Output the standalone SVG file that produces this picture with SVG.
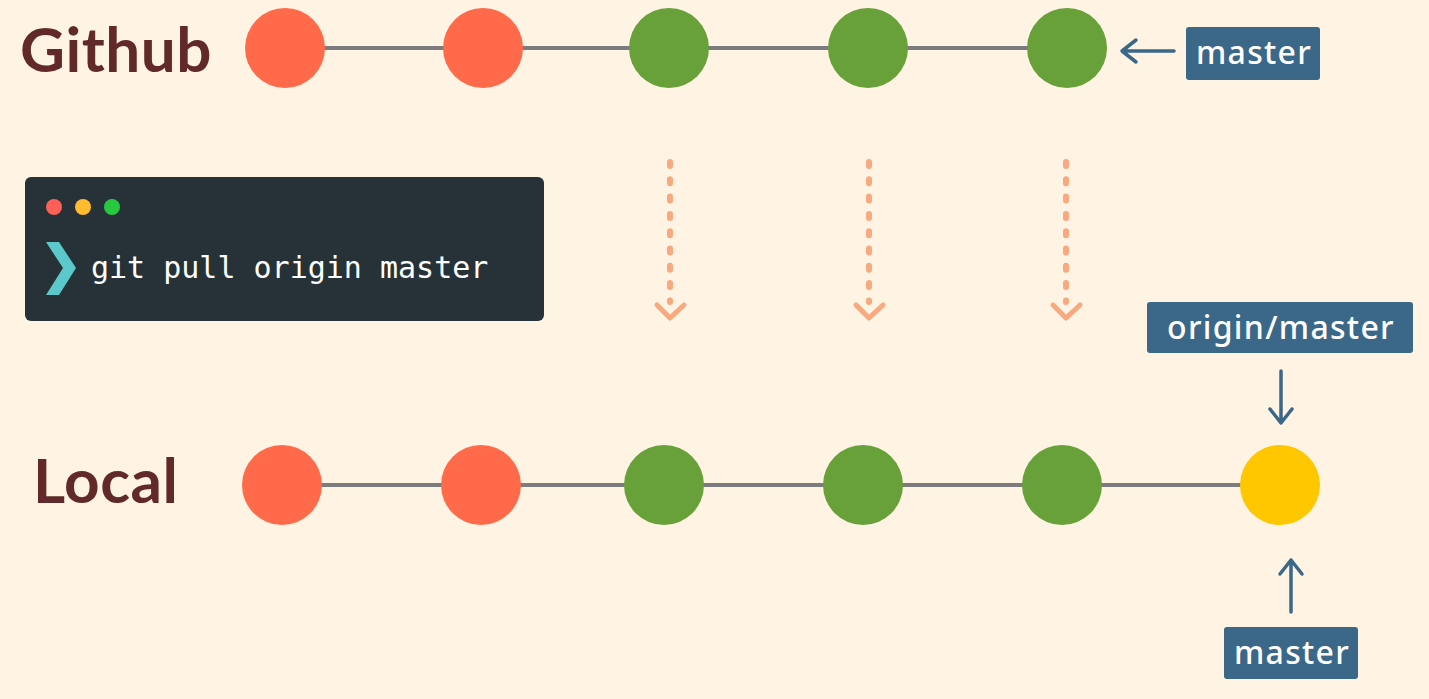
<svg xmlns="http://www.w3.org/2000/svg" width="1429" height="699" viewBox="0 0 1429 699">
<defs>
<style>
.title{font-family:Lato,"Noto Sans",sans-serif;font-weight:700;fill:#62292b;font-size:62px;letter-spacing:0.5px}
.lbl{font-family:"Noto Sans",Lato,sans-serif;font-weight:500;fill:#ffffff;font-size:32px;letter-spacing:1.3px;text-anchor:middle}
.tag{fill:#3b6789}
.line{stroke:#7b7b80;stroke-width:4}
.red{fill:#ff6a4a}
.green{fill:#68a03a}
.yellow{fill:#fec700}
.ptr{stroke:#3b6789;stroke-width:3.5;fill:none;stroke-linecap:round;stroke-linejoin:round}
.dot{stroke:#f9a97f;stroke-width:6;fill:none;stroke-linecap:round;stroke-dasharray:4 13.3}
.chev{stroke:#f9a97f;stroke-width:5;fill:none;stroke-linecap:round;stroke-linejoin:round}
</style>
</defs>
<rect width="1429" height="699" fill="#fff4e3"/>
<g id="connectors">
<line class="line" x1="285" y1="48" x2="1067" y2="48"/>
<line class="line" x1="282" y1="485" x2="1280" y2="485"/>
<path class="ptr" d="M1174 51 H1122 M1136 40 L1122 51 L1136 62"/>
<path class="ptr" d="M1281 371 V423 M1270 409 L1281 423 L1292 409"/>
<path class="ptr" d="M1291 612 V560 M1280 574 L1291 560 L1302 574"/>
<line class="dot" x1="670" y1="162" x2="670" y2="302"/>
<path class="chev" d="M657 305 L670 318 L684 305"/>
<line class="dot" x1="869" y1="162" x2="869" y2="302"/>
<path class="chev" d="M856 305 L869 318 L883 305"/>
<line class="dot" x1="1066" y1="162" x2="1066" y2="302"/>
<path class="chev" d="M1053 305 L1066 318 L1080 305"/>
</g>
<g id="github-label"><text class="title" x="20" y="72">Github</text></g>
<g id="local-label"><text class="title" x="33" y="503">Local</text></g>
<g id="g1"><circle class="red" cx="285" cy="48" r="40"/></g>
<g id="g2"><circle class="red" cx="483" cy="48" r="40"/></g>
<g id="g3"><circle class="green" cx="669" cy="48" r="40"/></g>
<g id="g4"><circle class="green" cx="868" cy="48" r="40"/></g>
<g id="g5"><circle class="green" cx="1067" cy="48" r="40"/></g>
<g id="l1"><circle class="red" cx="282" cy="485" r="40"/></g>
<g id="l2"><circle class="red" cx="481" cy="485" r="40"/></g>
<g id="l3"><circle class="green" cx="664" cy="485" r="40"/></g>
<g id="l4"><circle class="green" cx="863" cy="485" r="40"/></g>
<g id="l5"><circle class="green" cx="1062" cy="485" r="40"/></g>
<g id="l6"><circle class="yellow" cx="1280" cy="485" r="40"/></g>
<g id="tag-master-remote"><rect class="tag" x="1186" y="27" width="134" height="53" rx="3"/><text class="lbl" x="1254" y="64">master</text></g>
<g id="tag-origin-master"><rect class="tag" x="1147" y="302" width="266" height="51" rx="3"/><text class="lbl" x="1281" y="339">origin/master</text></g>
<g id="tag-master-local"><rect class="tag" x="1224" y="627" width="134" height="52" rx="3"/><text class="lbl" x="1292" y="664">master</text></g>
<g id="terminal">
<rect x="25" y="177" width="519" height="144" rx="6" fill="#263238"/>
<circle cx="54" cy="207" r="8" fill="#fe5f57"/>
<circle cx="83" cy="207" r="8" fill="#febc2e"/>
<circle cx="112" cy="207" r="8" fill="#28c840"/>
<polygon points="46,242 59,242 76,268 59,295 46,295 63,268" fill="#5bc8cc"/>
<text x="91" y="278" font-family="'DejaVu Sans Mono','Liberation Mono',monospace" font-size="30" fill="#ffffff">git pull origin master</text>
</g>
</svg>
